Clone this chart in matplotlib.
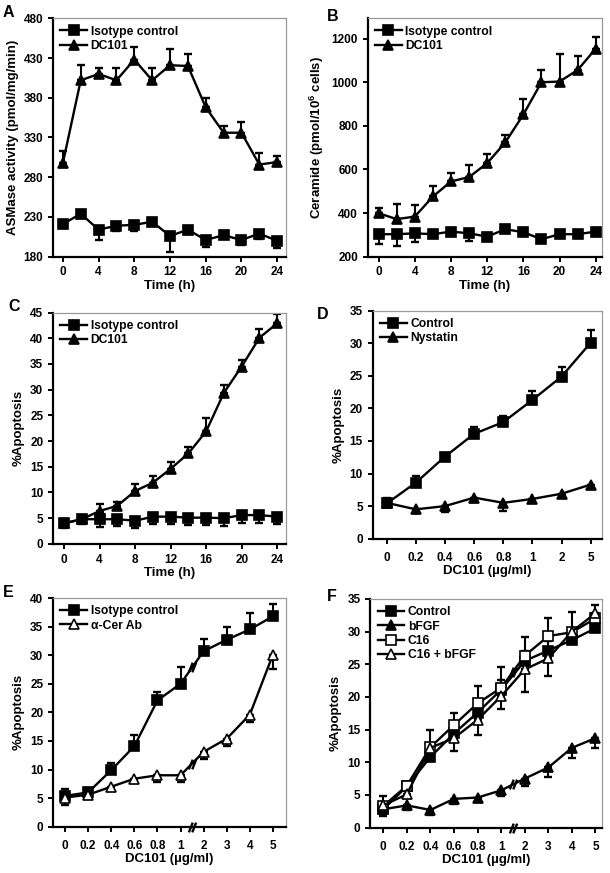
import matplotlib
matplotlib.use('Agg')
import matplotlib.pyplot as plt
from matplotlib.path import Path
import numpy as np

plt.rcParams['font.family'] = ['Liberation Sans', 'DejaVu Sans']
plt.rcParams['font.weight'] = 'bold'
plt.rcParams['axes.labelweight'] = 'bold'
plt.rcParams['mathtext.fontset'] = 'custom'
plt.rcParams['mathtext.rm'] = 'Liberation Sans:bold'
plt.rcParams['mathtext.bf'] = 'Liberation Sans:bold'
plt.rcParams['mathtext.default'] = 'rm'

# ---- data ----
hours = [0, 2, 4, 6, 8, 10, 12, 14, 16, 18, 20, 22, 24]
hour_ticks = [0, 4, 8, 12, 16, 20, 24]

# A: ASMase activity
a_iso = [221, 234, 214, 219, 220, 224, 206, 214, 201, 207, 201, 209, 200]
a_iso_err = [5, 5, 13, 7, 8, 4, 20, 6, 9, 4, 6, 7, 9]
a_dc = [298, 402, 410, 402, 428, 402, 421, 420, 368, 336, 336, 296, 299]
a_dc_err = [15, 19, 7, 16, 16, 16, 21, 15, 12, 8, 13, 15, 8]

# B: ceramide
b_iso = [303, 303, 307, 303, 315, 307, 292, 326, 312, 280, 303, 303, 315]
b_iso_err = [46, 55, 40, 10, 10, 35, 10, 15, 10, 10, 15, 15, 15]
b_dc = [399, 372, 384, 476, 545, 565, 629, 724, 852, 1000, 1003, 1056, 1154]
b_dc_err = [23, 70, 54, 50, 38, 55, 43, 35, 72, 55, 125, 64, 55]

# C: apoptosis vs time
c_iso = [4.0, 4.8, 4.8, 4.8, 4.5, 5.3, 5.3, 5.1, 5.1, 5.0, 5.6, 5.6, 5.3]
c_iso_err = [1.0, 1.0, 1.5, 1.3, 1.5, 1.5, 1.5, 1.5, 1.5, 1.5, 1.5, 1.5, 1.5]
c_dc = [4.0, 4.8, 6.4, 7.4, 10.3, 11.9, 14.6, 17.6, 21.9, 29.4, 34.5, 40.1, 42.9]
c_dc_err = [0.5, 0.5, 1.3, 0.8, 1.3, 1.3, 1.3, 1.3, 2.6, 1.6, 1.3, 1.6, 1.9]

# D: nystatin
d_labels = ['0', '0.2', '0.4', '0.6', '0.8', '1', '2', '5']
d_ctrl = [5.4, 8.6, 12.6, 16.1, 17.9, 21.3, 24.9, 30.1]
d_ctrl_err = [0.9, 1.0, 0.6, 1.1, 1.0, 1.4, 1.5, 2.0]
d_nys = [5.5, 4.5, 5.0, 6.3, 5.5, 6.1, 6.9, 8.3]
d_nys_err = [0.5, 0.6, 0.9, 0.7, 1.2, 0.4, 0.3, 0.3]

# E: anti-ceramide antibody
ef_labels = ['0', '0.2', '0.4', '0.6', '0.8', '1', '2', '3', '4', '5']
e_iso = [5.4, 6.0, 9.9, 14.1, 22.1, 25.0, 30.7, 32.7, 34.5, 36.8]
e_iso_err = [1.2, 0.8, 1.3, 1.9, 1.4, 2.9, 2.2, 2.3, 2.9, 2.2]
e_cer = [5.1, 5.6, 7.0, 8.4, 9.0, 9.0, 13.1, 15.4, 19.6, 30.1]
e_cer_err = [1.3, 0.5, 0.4, 0.8, 1.2, 1.2, 1.3, 1.3, 1.2, 2.6]

# F: bFGF / C16
f_ctrl = [2.8, 6.3, 10.8, 14.4, 17.6, 21.1, 25.5, 27.1, 28.7, 30.5]
f_ctrl_err = [0.8, 0.5, 1.0, 1.2, 1.5, 1.5, 1.5, 1.5, 1.4, 1.5]
f_bfgf = [2.8, 3.4, 2.7, 4.4, 4.6, 5.7, 7.5, 9.2, 12.2, 13.7]
f_bfgf_err = [1.0, 0.7, 0.7, 0.8, 0.7, 0.8, 1.2, 1.5, 1.5, 1.5]
f_c16 = [3.3, 6.4, 12.3, 15.7, 19.0, 21.4, 26.3, 29.3, 29.9, 32.0]
f_c16_err = [1.5, 0.6, 2.7, 1.8, 2.6, 3.2, 2.9, 2.7, 3.1, 2.0]
f_c16b = [3.4, 5.1, 12.2, 13.7, 16.5, 20.1, 24.2, 25.9, 30.0, 32.8]
f_c16b_err = [1.0, 0.6, 1.0, 2.0, 2.4, 1.9, 3.4, 2.7, 1.5, 2.1]

# ---- figure ----
fig = plt.figure(figsize=(6.1, 8.73), dpi=100)

boxes = {'A': [0.087, 0.706, 0.382, 0.273],
         'B': [0.603, 0.706, 0.384, 0.273],
         'C': [0.087, 0.377, 0.382, 0.265],
         'D': [0.611, 0.383, 0.376, 0.261],
         'E': [0.087, 0.053, 0.382, 0.262],
         'F': [0.607, 0.052, 0.380, 0.262]}
letters = {'A': (0.005, 0.994), 'B': (0.536, 0.99), 'C': (0.013, 0.658),
           'D': (0.52, 0.648), 'E': (0.005, 0.330), 'F': (0.536, 0.325)}

brk = Path([(-0.75, -1), (0.05, 1), (-0.05, -1), (0.75, 1)],
           [Path.MOVETO, Path.LINETO, Path.MOVETO, Path.LINETO])

LAB = 9.5


def style(ax):
    for s in ['left', 'bottom']:
        ax.spines[s].set_linewidth(1.6)
        ax.spines[s].set_color('black')
    for s in ['top', 'right']:
        ax.spines[s].set_linewidth(0.9)
        ax.spines[s].set_color('#9a9a9a')
    ax.tick_params(direction='out', length=3.5, width=1.4, labelsize=8.5,
                   top=False, right=False)
    for lab in ax.get_xticklabels() + ax.get_yticklabels():
        lab.set_fontweight('bold')


def series(ax, x, y, err, marker, filled, label, up=True, ms=7.5):
    lo = [0] * len(err) if up else err
    hi = err if up else [0] * len(err)
    ax.errorbar(x, y, yerr=[lo, hi], fmt='none', ecolor='black',
                elinewidth=1.5, capsize=2.8, capthick=1.7, zorder=2)
    ax.plot(x, y, color='black', lw=1.7, marker=marker, ms=ms,
            mfc='black' if filled else 'white', mec='black', mew=1.2,
            label=label, zorder=3)


def legend(ax):
    ax.legend(loc='upper left', frameon=False, handlelength=2.2,
              handletextpad=0.3, borderaxespad=0.2, labelspacing=0.2,
              prop={'weight': 'bold', 'size': 8.7})


def breaks(ax, ys):
    for yb in ys:
        ax.plot([5.5], [yb], marker=brk, ms=7, mew=1.7, color='black',
                zorder=4, clip_on=False)


axs = {k: fig.add_axes(v) for k, v in boxes.items()}

# A
ax = axs['A']
series(ax, hours, a_iso, a_iso_err, 's', True, 'Isotype control', up=False)
series(ax, hours, a_dc, a_dc_err, '^', True, 'DC101')
ax.set_xlim(-1.1, 25)
ax.set_ylim(180, 480)
ax.set_yticks([180, 230, 280, 330, 380, 430, 480])
ax.set_xticks(hour_ticks)
ax.set_ylabel('ASMase activity (pmol/mg/min)', fontsize=LAB, labelpad=3)
ax.set_xlabel('Time (h)', fontsize=LAB, labelpad=1)

# B
ax = axs['B']
series(ax, hours, b_iso, b_iso_err, 's', True, 'Isotype control', up=False)
series(ax, hours, b_dc, b_dc_err, '^', True, 'DC101')
ax.set_xlim(-1.2, 24.7)
ax.set_ylim(200, 1293)
ax.set_yticks([200, 400, 600, 800, 1000, 1200])
ax.set_xticks(hour_ticks)
ax.set_ylabel('Ceramide (pmol/10$^{6}$ cells)', fontsize=LAB, labelpad=4)
ax.set_xlabel('Time (h)', fontsize=LAB, labelpad=1)

# C
ax = axs['C']
series(ax, hours, c_iso, c_iso_err, 's', True, 'Isotype control', up=False)
series(ax, hours, c_dc, c_dc_err, '^', True, 'DC101')
ax.set_xlim(-1.24, 25)
ax.set_ylim(0, 45)
ax.set_yticks(range(0, 46, 5))
ax.set_xticks(hour_ticks)
ax.set_ylabel('%Apoptosis', fontsize=LAB)
ax.set_xlabel('Time (h)', fontsize=LAB, labelpad=1)

# D
ax = axs['D']
xd = np.arange(len(d_labels))
series(ax, xd, d_ctrl, d_ctrl_err, 's', True, 'Control')
series(ax, xd, d_nys, d_nys_err, '^', True, 'Nystatin', up=False)
ax.set_xlim(-0.48, 7.39)
ax.set_ylim(0, 35)
ax.set_yticks(range(0, 36, 5))
ax.set_xticks(xd)
ax.set_xticklabels(d_labels)
ax.tick_params(axis='x', length=0, pad=6)
ax.set_ylabel('%Apoptosis', fontsize=LAB)
ax.set_xlabel('DC101 (µg/ml)', fontsize=LAB, labelpad=1)

# E
ax = axs['E']
xe = np.arange(len(ef_labels))
series(ax, xe, e_iso, e_iso_err, 's', True, 'Isotype control')
series(ax, xe, e_cer, e_cer_err, '^', False, 'α-Cer Ab', up=False)
ax.set_xlim(-0.52, 9.57)
ax.set_ylim(0, 40)
ax.set_yticks(range(0, 41, 5))
ax.set_xticks(xe)
ax.set_xticklabels(ef_labels)
ax.tick_params(axis='x', length=0, pad=6)
ax.set_ylabel('%Apoptosis', fontsize=LAB)
ax.set_xlabel('DC101 (µg/ml)', fontsize=LAB, labelpad=1)
breaks(ax, [(e_iso[5] + e_iso[6]) / 2, (e_cer[5] + e_cer[6]) / 2, 0])

# F
ax = axs['F']
series(ax, xe, f_ctrl, f_ctrl_err, 's', True, 'Control')
series(ax, xe, f_bfgf, f_bfgf_err, '^', True, 'bFGF', up=False)
series(ax, xe, f_c16, f_c16_err, 's', False, 'C16')
series(ax, xe, f_c16b, f_c16b_err, '^', False, 'C16 + bFGF', up=False)
ax.set_xlim(-0.55, 9.28)
ax.set_ylim(0, 35)
ax.set_yticks(range(0, 36, 5))
ax.set_xticks(xe)
ax.set_xticklabels(ef_labels)
ax.tick_params(axis='x', length=0, pad=6)
ax.set_ylabel('%Apoptosis', fontsize=LAB)
ax.set_xlabel('DC101 (µg/ml)', fontsize=LAB, labelpad=1)
breaks(ax, [(f_c16[5] + f_c16[6]) / 2, (f_bfgf[5] + f_bfgf[6]) / 2, 0])

for k, ax in axs.items():
    style(ax)
    legend(ax)
    fig.text(letters[k][0], letters[k][1], k, fontsize=11.5, fontweight='bold',
             va='top', ha='left')

fig.savefig('out.png', dpi=100)
